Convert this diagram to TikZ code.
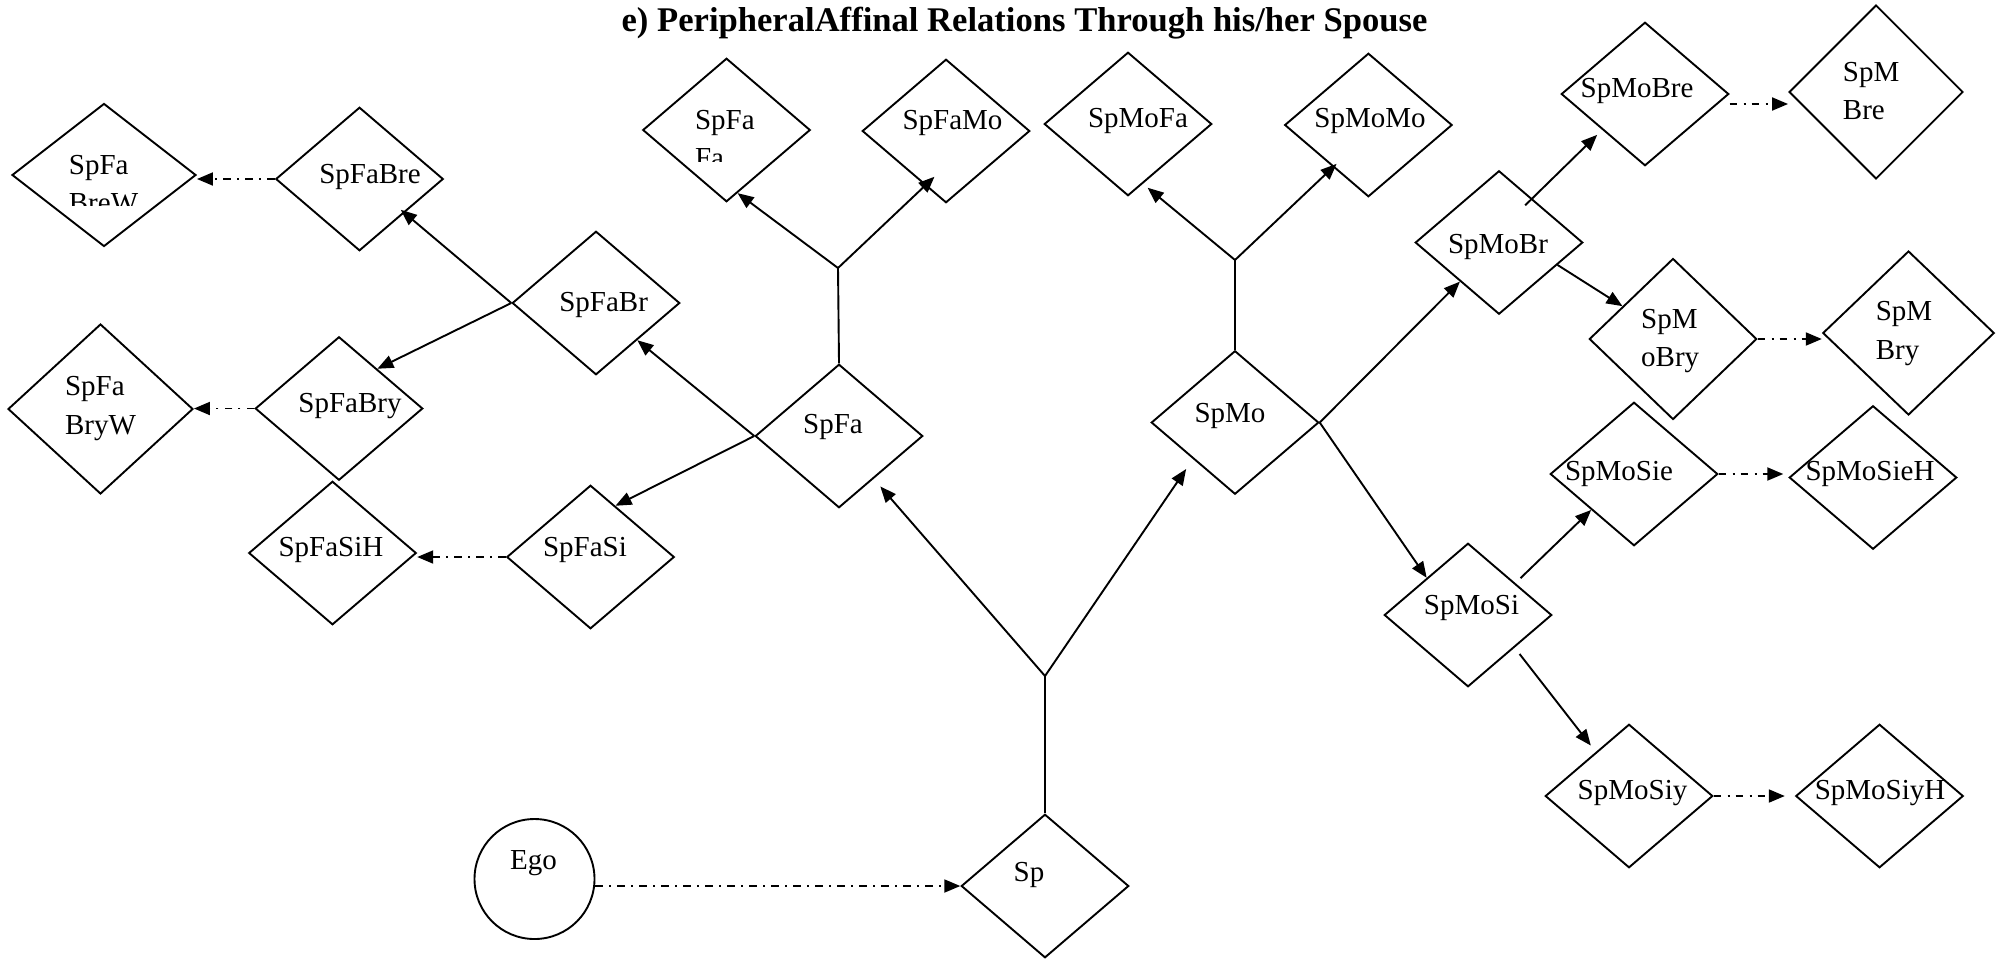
\documentclass[tikz,border=0pt]{standalone}
\usepackage{fontspec}
\setmainfont{Liberation Serif}
\usetikzlibrary{shapes.geometric,arrows.meta}

\begin{document}
\begin{tikzpicture}[x=0.5pt,y=-0.5pt,
  dia/.style={draw, diamond, inner sep=0pt, line width=0.95pt,
              minimum width=83.75pt, minimum height=71.75pt},
  egobox/.style={draw, circle, inner sep=0pt, line width=0.95pt, minimum size=60pt},
  txt/.style={inner sep=0pt, font=\fontsize{14.5}{19.25}\selectfont},
  txtl/.style={txt, align=left, anchor=west},
  ln/.style={line width=0.95pt},
  arr/.style={line width=0.95pt, -{Triangle[length=8pt,width=6.5pt]}},
  dd/.style={arr, dash pattern=on 3.8pt off 3.2pt on 1pt off 3pt}
]
\useasboundingbox (0,0) rectangle (2006,960);

% title
\node[inner sep=0pt, font=\fontsize{17.3}{20}\selectfont\bfseries] (title) at (1024.5,23.5)
  {e) PeripheralAffinal Relations Through his/her Spouse};

% ---------- diamonds ----------
\node[dia, minimum width=92pt, minimum height=71.5pt] (SpFaBreW) at (104,175) {};
\node[dia] (SpFaBre) at (359.5,179) {};
\node[dia] (SpFaBr) at (596,303) {};
\node[dia, minimum width=92.5pt, minimum height=85pt] (SpFaBryW) at (100.5,409) {};
\node[dia] (SpFaBry) at (339,408.5) {};
\node[dia] (SpFaSiH) at (332.5,553) {};
\node[dia] (SpFaSi) at (590.5,557) {};
\node[dia] (SpFaFa) at (726.5,130) {};
\node[dia] (SpFaMo) at (946,131) {};
\node[dia] (SpMoFa) at (1128,124) {};
\node[dia] (SpFa) at (839,436) {};
\node[dia] (SpMo) at (1235,422.5) {};
\node[dia] (SpMoMo) at (1368.4,125) {};
\node[dia] (SpMoBre) at (1645,94) {};
\node[dia, minimum width=87pt, minimum height=87pt] (SpMBre) at (1876,92) {};
\node[dia] (SpMoBr) at (1499,242.5) {};
\node[dia, minimum height=80.5pt] (SpMoBry) at (1673,339) {};
\node[dia, minimum width=85.75pt, minimum height=82pt] (SpMBry) at (1908.5,333) {};
\node[dia] (SpMoSie) at (1634,474) {};
\node[dia] (SpMoSieH) at (1873,477.5) {};
\node[dia] (SpMoSi) at (1468,615) {};
\node[dia] (SpMoSiy) at (1629,796) {};
\node[dia] (SpMoSiyH) at (1879.5,796) {};
\node[dia] (Sp) at (1045,886) {};
\node[egobox] (Ego) at (534.5,879) {};

% ---------- labels ----------
\begin{scope}
  \clip ([shift={(-60,-60)}]SpFaBreW.center) rectangle ([shift={(60,30.7)}]SpFaBreW.center);
  \node[txtl] (tSpFaBreW) at ([shift={(-35.5,8.9)}]SpFaBreW.center) {SpFa\\BreW};
\end{scope}
\begin{scope}
  \clip ([shift={(-60,-60)}]SpFaFa.center) rectangle ([shift={(60,31.7)}]SpFaFa.center);
  \node[txtl] (tSpFaFa) at ([shift={(-31.9,9)}]SpFaFa.center) {SpFa\\Fa};
\end{scope}
\node[txt] (tSpFaBre) at ([shift={(10.5,-2)}]SpFaBre.center) {SpFaBre};
\node[txt] (tSpFaBr) at ([shift={(7.6,2)}]SpFaBr.center) {SpFaBr};
\node[txtl] (tSpFaBryW) at ([shift={(-35.8,-0.7)}]SpFaBryW.center) {SpFa\\BryW};
\node[txt] (tSpFaBry) at ([shift={(11,-2.5)}]SpFaBry.center) {SpFaBry};
\node[txt] (tSpFaSiH) at ([shift={(-1.5,-3.4)}]SpFaSiH.center) {SpFaSiH};
\node[txt] (tSpFaSi) at ([shift={(-5.5,-7.4)}]SpFaSi.center) {SpFaSi};
\node[txt] (tSpFaMo) at ([shift={(6.5,-8.3)}]SpFaMo.center) {SpFaMo};
\node[txt] (tSpMoFa) at ([shift={(10,-3.3)}]SpMoFa.center) {SpMoFa};
\node[txt] (tSpFa) at ([shift={(-6,-9.3)}]SpFa.center) {SpFa};
\node[txt] (tSpMo) at ([shift={(-5,-6.5)}]SpMo.center) {SpMo};
\node[txt] (tSpMoMo) at ([shift={(1.6,-4.3)}]SpMoMo.center) {SpMoMo};
\node[txt] (tSpMoBre) at ([shift={(-8,-3.3)}]SpMoBre.center) {SpMoBre};
\node[txtl] (tSpMBre) at ([shift={(-33.5,-1.1)}]SpMBre.center) {SpM\\Bre};
\node[txt] (tSpMoBr) at ([shift={(-1,4.5)}]SpMoBr.center) {SpMoBr};
\node[txtl] (tSpMoBry) at ([shift={(-32.2,2.2)}]SpMoBry.center) {SpM\\oBry};
\node[txtl] (tSpMBry) at ([shift={(-33.1,0.5)}]SpMBry.center) {SpM\\Bry};
\node[txt] (tSpMoSie) at ([shift={(-15,0)}]SpMoSie.center) {SpMoSie};
\node[txt] (tSpMoSieH) at ([shift={(-3,-3.5)}]SpMoSieH.center) {SpMoSieH};
\node[txt] (tSpMoSi) at ([shift={(3.5,-7.3)}]SpMoSi.center) {SpMoSi};
\node[txt] (tSpMoSiy) at ([shift={(3.5,-3)}]SpMoSiy.center) {SpMoSiy};
\node[txt] (tSpMoSiyH) at ([shift={(0.5,-3)}]SpMoSiyH.center) {SpMoSiyH};
\node[txt] (tSp) at ([shift={(-16,-11)}]Sp.center) {Sp};
\node[txt] (tEgo) at ([shift={(-1,-16)}]Ego.center) {Ego};

% ---------- branch points ----------
\coordinate (J0) at (1045,676);
\coordinate (J1) at (838,268);
\coordinate (J2) at (1235,260);

% ---------- connectors ----------
\draw[dd] (Ego.east |- Sp.west) -- (Sp.west);

\draw[ln] (Sp.north) -- (J0);
\draw[arr, shorten >=5pt] (J0) -- (SpFa.-51);
\draw[arr, shorten >=6pt] (J0) -- (SpMo.-139);

\draw[ln] (SpFa.north) -- (J1);
\draw[arr] (J1) -- (SpFaFa.-80);
\draw[arr, shorten >=-6.5pt] (J1) -- (SpFaMo.-111);

\draw[arr] (SpFa.west) -- (SpFaBr.-42);
\draw[arr] (SpFa.west) -- (SpFaSi.64);
\draw[arr, shorten >=-2.5pt] (SpFaBr.west) -- (SpFaBre.-37);
\draw[arr] (SpFaBr.west) -- (SpFaBry.46);

\draw[dd] (SpFaBre.west) -- (SpFaBre.west -| SpFaBreW.east);
\draw[dd] (SpFaBry.west) -- (SpFaBry.west -| SpFaBryW.east);
\draw[dd] (SpFaSi.west) -- (SpFaSi.west -| SpFaSiH.east);

\draw[ln] (SpMo.north) -- (J2);
\draw[arr, shorten >=3pt] (J2) -- (SpMoFa.-76);
\draw[arr, shorten >=-2.5pt] (J2) -- (SpMoMo.-130);

\draw[arr] (SpMo.east) -- (SpMoBr.-135);
\draw[arr] (SpMo.east) -- (SpMoSi.138);

\draw[arr, shorten <=-5pt, shorten >=3.5pt] (SpMoBr.53) -- (SpMoBre.-140);
\draw[arr] (SpMoBr.-21) -- (SpMoBry.147);
\draw[dd] ([yshift=-5pt]SpMoBre.east) -- ([yshift=-5pt]SpMoBre.east -| SpMBre.west);
\draw[dd] (SpMoBry.east) -- (SpMoBry.east -| SpMBry.west);

\draw[arr, shorten <=3.5pt] (SpMoSi.34) -- (SpMoSie.-140);
\draw[arr, shorten <=4pt, shorten >=4pt] (SpMoSi.-35) -- (SpMoSiy.127);
\draw[dd, shorten >=2.5pt] (SpMoSie.east) -- (SpMoSie.east -| SpMoSieH.west);
\draw[dd, shorten >=5pt] (SpMoSiy.east) -- (SpMoSiyH.west);
\end{tikzpicture}
\end{document}
